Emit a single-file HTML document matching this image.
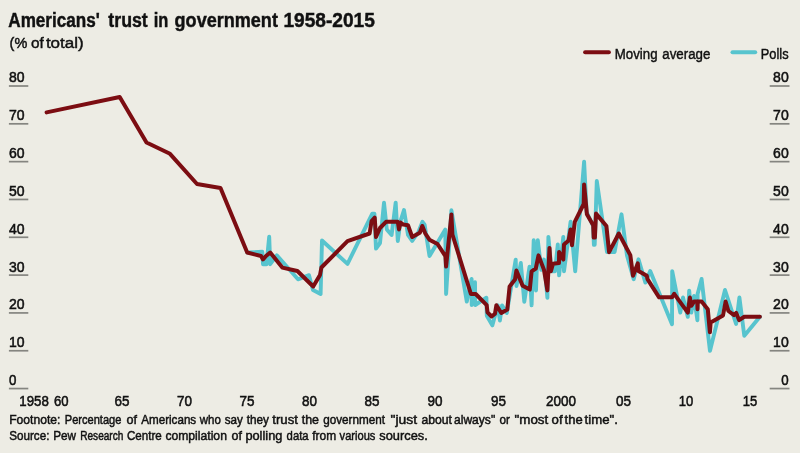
<!DOCTYPE html>
<html lang="en"><head><meta charset="utf-8"><title>Americans' trust in government 1958-2015</title>
<style>
html,body{margin:0;padding:0;background:#edece4;}
body{width:800px;height:453px;overflow:hidden;font-family:"Liberation Sans",sans-serif;}
svg{display:block}
text{font-family:"Liberation Sans",sans-serif;fill:#111111;}
.t{font-weight:bold;font-size:19.6px;stroke:#111111;stroke-width:0.45px}
.s{font-size:15.5px;stroke:#111111;stroke-width:0.45px}
.s2{font-size:15.5px;stroke:#111111;stroke-width:0.45px}
.a{font-size:15px;stroke:#111111;stroke-width:0.55px}
.f{font-size:13.7px;stroke:#111111;stroke-width:0.5px}
</style></head><body>
<svg width="800" height="453" viewBox="0 0 800 453">
<rect width="800" height="453" fill="#edece4"/>

<text class="t" x="8.3" y="26.7" textLength="91.5" lengthAdjust="spacingAndGlyphs">Americans'</text>
<text class="t" x="108.3" y="26.7" textLength="39.5" lengthAdjust="spacingAndGlyphs">trust</text>
<text class="t" x="153.8" y="26.7" textLength="14.6" lengthAdjust="spacingAndGlyphs">in</text>
<text class="t" x="174.6" y="26.7" textLength="103.3" lengthAdjust="spacingAndGlyphs">government</text>
<text class="t" x="283.4" y="26.7" textLength="91.5" lengthAdjust="spacingAndGlyphs">1958-2015</text>
<text class="s2" x="9.6" y="47.7" textLength="17.7" lengthAdjust="spacingAndGlyphs">(%</text>
<text class="s2" x="30.9" y="47.7" textLength="12.8" lengthAdjust="spacingAndGlyphs">of</text>
<text class="s2" x="45.9" y="47.7" textLength="37.8" lengthAdjust="spacingAndGlyphs">total)</text>
<line x1="585.1" y1="52.2" x2="608.9" y2="52.2" stroke="#7c0d12" stroke-width="4" stroke-linecap="round"/>
<text class="s" x="614.8" y="59.0" textLength="42.7" lengthAdjust="spacingAndGlyphs">Moving</text>
<text class="s" x="662.3" y="59.0" textLength="48.1" lengthAdjust="spacingAndGlyphs">average</text>
<line x1="732.5" y1="52.2" x2="755.2" y2="52.2" stroke="#57c4ce" stroke-width="4" stroke-linecap="round"/>
<text class="s" x="760.8" y="59.0" textLength="27.8" lengthAdjust="spacingAndGlyphs">Polls</text>
<rect x="8.9" y="85.15" width="19.4" height="1.7" fill="#858580"/>
<text class="a" x="9" y="82.4" textLength="15.6" lengthAdjust="spacingAndGlyphs">80</text>
<rect x="769.7" y="85.15" width="19.8" height="1.7" fill="#858580"/>
<text class="a" x="773.0999999999999" y="82.4" textLength="15.6" lengthAdjust="spacingAndGlyphs">80</text>
<rect x="8.9" y="122.97" width="19.4" height="1.7" fill="#858580"/>
<text class="a" x="9" y="120.2" textLength="15.6" lengthAdjust="spacingAndGlyphs">70</text>
<rect x="769.7" y="122.97" width="19.8" height="1.7" fill="#858580"/>
<text class="a" x="773.0999999999999" y="120.2" textLength="15.6" lengthAdjust="spacingAndGlyphs">70</text>
<rect x="8.9" y="160.79" width="19.4" height="1.7" fill="#858580"/>
<text class="a" x="9" y="158.0" textLength="15.6" lengthAdjust="spacingAndGlyphs">60</text>
<rect x="769.7" y="160.79" width="19.8" height="1.7" fill="#858580"/>
<text class="a" x="773.0999999999999" y="158.0" textLength="15.6" lengthAdjust="spacingAndGlyphs">60</text>
<rect x="8.9" y="198.61" width="19.4" height="1.7" fill="#858580"/>
<text class="a" x="9" y="195.9" textLength="15.6" lengthAdjust="spacingAndGlyphs">50</text>
<rect x="769.7" y="198.61" width="19.8" height="1.7" fill="#858580"/>
<text class="a" x="773.0999999999999" y="195.9" textLength="15.6" lengthAdjust="spacingAndGlyphs">50</text>
<rect x="8.9" y="236.43" width="19.4" height="1.7" fill="#858580"/>
<text class="a" x="9" y="233.7" textLength="15.6" lengthAdjust="spacingAndGlyphs">40</text>
<rect x="769.7" y="236.43" width="19.8" height="1.7" fill="#858580"/>
<text class="a" x="773.0999999999999" y="233.7" textLength="15.6" lengthAdjust="spacingAndGlyphs">40</text>
<rect x="8.9" y="274.25" width="19.4" height="1.7" fill="#858580"/>
<text class="a" x="9" y="271.5" textLength="15.6" lengthAdjust="spacingAndGlyphs">30</text>
<rect x="769.7" y="274.25" width="19.8" height="1.7" fill="#858580"/>
<text class="a" x="773.0999999999999" y="271.5" textLength="15.6" lengthAdjust="spacingAndGlyphs">30</text>
<rect x="8.9" y="312.07" width="19.4" height="1.7" fill="#858580"/>
<text class="a" x="9" y="309.3" textLength="15.6" lengthAdjust="spacingAndGlyphs">20</text>
<rect x="769.7" y="312.07" width="19.8" height="1.7" fill="#858580"/>
<text class="a" x="773.0999999999999" y="309.3" textLength="15.6" lengthAdjust="spacingAndGlyphs">20</text>
<rect x="8.9" y="349.89" width="19.4" height="1.7" fill="#858580"/>
<text class="a" x="9" y="347.1" textLength="15.6" lengthAdjust="spacingAndGlyphs">10</text>
<rect x="769.7" y="349.89" width="19.8" height="1.7" fill="#858580"/>
<text class="a" x="773.0999999999999" y="347.1" textLength="15.6" lengthAdjust="spacingAndGlyphs">10</text>
<rect x="8.9" y="387.71" width="19.4" height="1.7" fill="#858580"/>
<text class="a" x="9" y="385.0" textLength="7.4" lengthAdjust="spacingAndGlyphs">0</text>
<rect x="769.7" y="387.71" width="19.8" height="1.7" fill="#858580"/>
<text class="a" x="781.3" y="385.0" textLength="7.4" lengthAdjust="spacingAndGlyphs">0</text>
<text class="a" x="19.3" y="405.7" textLength="29.5" lengthAdjust="spacingAndGlyphs">1958</text>
<text class="a" x="53.9" y="405.7" textLength="14.6" lengthAdjust="spacingAndGlyphs">60</text>
<text class="a" x="114.5" y="405.7" textLength="15" lengthAdjust="spacingAndGlyphs">65</text>
<text class="a" x="177.0" y="405.7" textLength="15" lengthAdjust="spacingAndGlyphs">70</text>
<text class="a" x="239.5" y="405.7" textLength="15" lengthAdjust="spacingAndGlyphs">75</text>
<text class="a" x="302.0" y="405.7" textLength="15" lengthAdjust="spacingAndGlyphs">80</text>
<text class="a" x="364.5" y="405.7" textLength="15" lengthAdjust="spacingAndGlyphs">85</text>
<text class="a" x="427.5" y="405.7" textLength="15" lengthAdjust="spacingAndGlyphs">90</text>
<text class="a" x="491.0" y="405.7" textLength="15" lengthAdjust="spacingAndGlyphs">95</text>
<text class="a" x="546.0" y="405.7" textLength="30" lengthAdjust="spacingAndGlyphs">2000</text>
<text class="a" x="616.0" y="405.7" textLength="15" lengthAdjust="spacingAndGlyphs">05</text>
<text class="a" x="678.8" y="405.7" textLength="14.5" lengthAdjust="spacingAndGlyphs">10</text>
<text class="a" x="742.8" y="405.7" textLength="14.5" lengthAdjust="spacingAndGlyphs">15</text>
<polyline fill="none" stroke="#57c4ce" stroke-width="3.9" stroke-linejoin="round" stroke-linecap="round" points="247.2,252.5 262.3,251.8 263.0,264.2 266.5,264.2 269.2,236.7 270.2,264.2 276.8,255.3 298.0,279.3 309.0,275.2 313.0,290.0 320.6,294.0 322.0,240.5 347.5,263.9 372.3,213.6 374.4,213.6 376.0,248.6 380.0,243.0 384.0,202.6 386.8,229.4 391.6,235.0 395.7,202.6 397.8,241.0 400.5,221.0 404.0,210.0 408.0,235.0 412.2,241.0 418.4,232.0 422.5,221.8 424.6,224.6 429.5,256.0 445.3,229.6 446.1,294.0 451.4,210.3 466.8,301.6 471.6,278.9 471.7,305.0 475.0,282.3 475.2,305.0 486.4,297.7 486.8,315.8 492.3,325.4 497.8,305.4 499.9,320.6 502.0,305.4 506.8,313.0 515.7,259.6 516.5,286.0 520.8,263.0 524.3,301.8 529.5,266.8 531.6,305.4 533.7,240.3 536.0,290.5 537.8,240.3 541.3,269.9 544.0,259.6 547.4,297.9 548.4,236.9 551.6,271.3 555.0,271.3 557.8,244.4 559.1,275.4 563.3,236.9 564.0,271.3 570.6,221.8 575.2,271.3 584.1,161.7 586.6,212.0 593.1,226.0 593.9,244.8 594.7,244.8 596.8,181.0 607.0,252.0 614.6,252.0 621.5,214.3 627.0,255.5 633.7,279.2 638.5,259.3 645.4,282.6 650.2,271.0 672.0,324.3 672.2,271.2 680.3,312.6 683.0,297.5 687.8,316.8 689.2,290.6 691.3,312.6 694.0,296.0 697.4,320.2 697.6,294.0 701.6,279.0 710.0,350.9 725.0,290.0 736.1,324.0 739.4,297.5 744.3,335.8 759.9,316.8"/>
<polyline fill="none" stroke="#7c0d12" stroke-width="4.0" stroke-linejoin="round" stroke-linecap="round" points="46.6,112.4 119.7,97.0 146.5,142.5 170.0,153.8 197.0,184.0 220.5,188.0 247.2,252.5 261.0,256.0 263.0,259.4 266.0,256.0 270.2,252.5 282.3,267.6 297.4,271.0 313.2,286.5 320.0,275.0 321.4,267.5 347.5,241.2 369.6,233.5 371.6,221.0 374.7,217.7 376.0,237.0 380.0,228.0 386.0,221.8 397.8,221.8 399.0,229.4 400.5,222.5 403.3,224.6 408.0,225.3 412.2,237.0 419.8,232.8 422.3,226.0 425.3,233.5 429.4,239.7 437.5,244.0 445.4,256.2 446.1,266.5 451.4,214.4 452.4,234.5 470.9,294.0 475.7,294.0 486.7,305.2 487.5,312.3 491.6,316.5 495.0,313.7 496.4,305.2 501.3,313.0 507.3,309.5 509.6,286.4 515.0,279.6 516.4,270.6 522.6,285.8 529.8,289.5 531.6,271.3 535.8,268.5 538.5,255.4 544.0,269.9 547.4,290.4 549.5,247.9 550.9,271.3 553.0,263.7 559.0,263.0 559.1,252.0 563.3,259.6 564.0,244.4 568.6,240.4 570.6,229.4 572.0,245.2 574.8,221.8 583.7,204.0 584.1,184.4 586.9,214.3 593.2,225.3 593.7,237.6 594.9,237.6 596.0,213.6 606.4,226.0 609.1,252.2 618.8,233.5 630.3,255.1 633.0,275.8 637.8,263.4 638.5,271.0 646.8,275.8 647.5,279.2 659.1,297.3 672.1,297.3 674.2,293.8 687.8,312.6 689.9,297.5 691.3,305.8 694.0,301.6 697.3,301.6 697.5,309.2 697.7,301.6 701.6,301.6 707.8,309.2 709.9,332.3 710.6,322.5 723.0,315.5 725.6,301.5 728.4,311.0 734.0,315.1 736.2,312.9 739.1,320.1 744.3,316.8 759.9,316.8"/>
<text class="f" x="9.2" y="424.2" textLength="51.2" lengthAdjust="spacingAndGlyphs">Footnote:</text>
<text class="f" x="64.8" y="424.2" textLength="56.6" lengthAdjust="spacingAndGlyphs">Percentage</text>
<text class="f" x="126.6" y="424.2" textLength="10.5" lengthAdjust="spacingAndGlyphs">of</text>
<text class="f" x="141.2" y="424.2" textLength="55.0" lengthAdjust="spacingAndGlyphs">Americans</text>
<text class="f" x="199.8" y="424.2" textLength="21.1" lengthAdjust="spacingAndGlyphs">who</text>
<text class="f" x="224.7" y="424.2" textLength="18.2" lengthAdjust="spacingAndGlyphs">say</text>
<text class="f" x="246.7" y="424.2" textLength="22.3" lengthAdjust="spacingAndGlyphs">they</text>
<text class="f" x="272.3" y="424.2" textLength="25.6" lengthAdjust="spacingAndGlyphs">trust</text>
<text class="f" x="301.7" y="424.2" textLength="17.3" lengthAdjust="spacingAndGlyphs">the</text>
<text class="f" x="323.2" y="424.2" textLength="61.8" lengthAdjust="spacingAndGlyphs">government</text>
<text class="f" x="390.6" y="424.2" textLength="26.6" lengthAdjust="spacingAndGlyphs">&quot;just</text>
<text class="f" x="421.4" y="424.2" textLength="30.6" lengthAdjust="spacingAndGlyphs">about</text>
<text class="f" x="454.0" y="424.2" textLength="41.2" lengthAdjust="spacingAndGlyphs">always&quot;</text>
<text class="f" x="499.4" y="424.2" textLength="10.4" lengthAdjust="spacingAndGlyphs">or</text>
<text class="f" x="514.5" y="424.2" textLength="33.8" lengthAdjust="spacingAndGlyphs">&quot;most</text>
<text class="f" x="551.6" y="424.2" textLength="11.0" lengthAdjust="spacingAndGlyphs">of</text>
<text class="f" x="564.6" y="424.2" textLength="18.1" lengthAdjust="spacingAndGlyphs">the</text>
<text class="f" x="584.6" y="424.2" textLength="33.3" lengthAdjust="spacingAndGlyphs">time&quot;.</text>
<text class="f" x="9.2" y="440.1" textLength="40.2" lengthAdjust="spacingAndGlyphs">Source:</text>
<text class="f" x="53.2" y="440.1" textLength="22.8" lengthAdjust="spacingAndGlyphs">Pew</text>
<text class="f" x="80.2" y="440.1" textLength="43.2" lengthAdjust="spacingAndGlyphs">Research</text>
<text class="f" x="126.9" y="440.1" textLength="34.9" lengthAdjust="spacingAndGlyphs">Centre</text>
<text class="f" x="165.4" y="440.1" textLength="61.5" lengthAdjust="spacingAndGlyphs">compilation</text>
<text class="f" x="231.6" y="440.1" textLength="10.4" lengthAdjust="spacingAndGlyphs">of</text>
<text class="f" x="245.4" y="440.1" textLength="37.0" lengthAdjust="spacingAndGlyphs">polling</text>
<text class="f" x="286.6" y="440.1" textLength="22.0" lengthAdjust="spacingAndGlyphs">data</text>
<text class="f" x="312.2" y="440.1" textLength="23.9" lengthAdjust="spacingAndGlyphs">from</text>
<text class="f" x="339.6" y="440.1" textLength="35.8" lengthAdjust="spacingAndGlyphs">various</text>
<text class="f" x="379.3" y="440.1" textLength="48.5" lengthAdjust="spacingAndGlyphs">sources.</text>
</svg></body></html>
